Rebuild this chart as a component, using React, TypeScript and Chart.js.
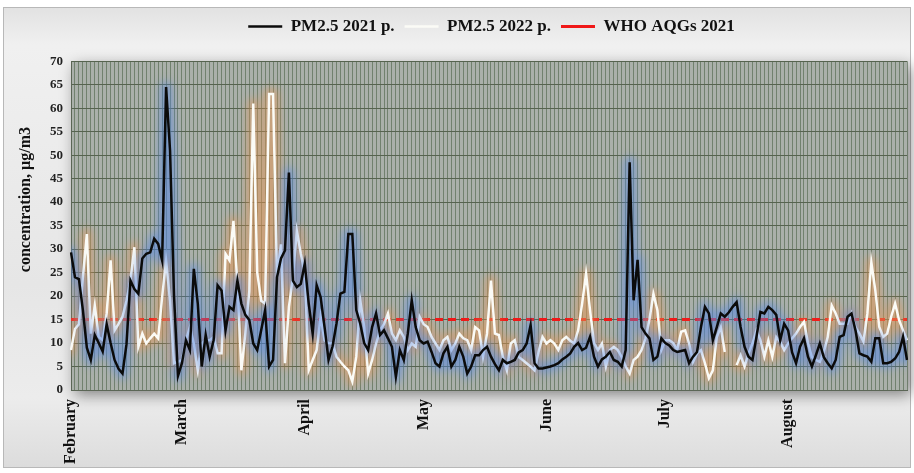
import React, { useEffect, useRef } from "react";
import { Chart, registerables } from "chart.js";

Chart.register(...registerables);

const monthLabels = ["February", "March", "April", "May", "June", "July", "August"];
const monthStartDays = [0, 28, 59, 89, 120, 150, 181];
const yMin = 0;
const yMax = 70;
const yStep = 5;
const whoLimit = 15;

const pm2021 = [
  29.3, 24.0, 23.6, 17, 9, 6.4, 11.7, 10, 8.2, 14,
  10, 6.4, 4.5, 3.5, 9.7, 23.3, 21.5, 20.5, 28, 29,
  29.3, 32.2, 31.1, 27.6, 64.5, 51, 20, 3, 5.7, 10.6,
  8.5, 25.8, 18.4, 5, 11.7, 7.1, 10.6, 22.3, 21.2, 12.7,
  17.7, 17, 23.3, 18.4, 16, 14.9, 9.9, 8.5, 12.7, 17,
  5, 6.4, 24, 28, 29.7, 46.3, 23.3, 21.9, 22.6, 26.9,
  18.4, 12, 22.3, 19.8, 13.4, 6.4, 9.2, 14.1, 20.5, 20.9,
  33.2, 33.2, 17, 14.1, 10, 8.5, 13.4, 16.3, 11.7, 12.7,
  11, 9.2, 2.8, 8.5, 6.4, 12, 19.1, 13.4, 10.6, 9.9,
  10.3, 8.1, 5.7, 5, 7.8, 9.2, 5, 6.4, 9.2, 7.1,
  3.5, 5, 7.4, 7.4, 8.5, 9.2, 7.1, 5.5, 4.2, 6.4,
  5.7, 6, 6.4, 8, 8.5, 9.9, 13.8, 5.7, 4.6, 4.6,
  4.8, 5, 5.3, 5.7, 6.5, 7.1, 7.8, 9.2, 10, 8.5,
  9, 11.3, 7.1, 5, 6.5, 7.1, 8.1, 6.4, 6, 5,
  8.5, 48.5, 19.1, 27.7, 13.4, 12, 11, 6.4, 7.1, 11,
  10, 9.5, 8.5, 8.1, 8.3, 8.5, 5.7, 7.1, 8.1, 13.4,
  17.7, 16.3, 10.6, 13.4, 16.3, 15.6, 16.5, 17.7, 18.7, 13.4,
  9.2, 7.1, 6.4, 11.3, 16.6, 16.3, 17.7, 17, 16, 10.6,
  14.1, 12.7, 8, 5.7, 9.2, 11, 7.1, 5, 7.4, 9.9,
  7, 5.7, 4.6, 6.4, 11.3, 11.7, 15.6, 16.3, 12.7, 7.8,
  7.4, 7.1, 6, 11, 11, 5.7, 5.7, 6, 6.7, 8.1,
  11.3, 6.4,
];

const pm2022 = [
  8.5, 13, 14, 24, 33.2, 12, 18, 11.3, 10.6, 16.3,
  27.6, 12.7, 14.1, 15.6, 19, 23.3, 30.4, 9.2, 12, 9.9,
  11, 12, 11, 19.8, 27.6, 19, 5.7, 6, 6.4, 10.6,
  13.4, 9.9, 4.2, 9.9, 10.6, 10.6, 11.3, 7.8, 7.8, 29,
  27.6, 36, 22.6, 4.2, 12, 21, 61, 25, 19, 18.4,
  63, 63, 24, 31, 5.7, 17.7, 24, 33.9, 29, 24.8,
  4.2, 6.4, 8.5, 15.6, 10.6, 10, 9.9, 7.1, 6, 5,
  4.2, 1.8, 7.1, 19.1, 13.4, 3.5, 6.4, 9.9, 12.7, 14,
  16.3, 12, 10.6, 12.7, 11.3, 8.5, 9.9, 9.2, 15.6, 14,
  13.4, 11.3, 9.9, 8.5, 10.6, 11.3, 8.5, 9.9, 12, 11,
  10.6, 8.5, 13.4, 12.7, 7.1, 12, 23.3, 12, 11.7, 7,
  4.2, 9.9, 10.6, 7, 6.4, 5.7, 5, 4.2, 8.1, 11.3,
  9.9, 10.6, 9.9, 8.5, 10.6, 11.3, 10.5, 9.9, 12.7, 18.4,
  24.8, 17, 10, 8.5, 9.9, 5, 8.5, 9.2, 8.5, 7,
  5, 3.5, 6.4, 7.1, 8.5, 11, 15, 20.5, 17, 8.5,
  10.6, 10.6, 10, 8.5, 12.4, 12.7, 9.9, 6, 7.8, 8.5,
  5.7, 2.5, 4.2, 11.3, 13.4, 8.1, null, null, 5.3, 7.4,
  5, 7.8, 9.9, 12.7, 10.6, 7.1, 10.6, 7.1, 11.3, 10.3,
  8.5, 9.9, 11, 12, 13.4, 14.5, 10, 7, 6.4, 6,
  8.1, 11.3, 18, 16.3, 14.1, 14.1, 14.1, 16.3, 13.4, 12,
  10.3, 16.3, 27.2, 21.2, 13.4, 11.3, 12, 15.6, 18.4, 14.9,
  12.7, 10.6,
];

const serif = "'Liberation Serif', 'Times New Roman', serif";
const yTitle = "concentration, µg/m3";

export default function App() {
  const canvasRef = useRef<HTMLCanvasElement | null>(null);

  useEffect(() => {
    document.body.style.margin = "0";
    const canvas = canvasRef.current;
    if (!canvas) return;

    const labels = pm2021.map((_, i) => {
      const m = monthStartDays.indexOf(i);
      return m >= 0 ? monthLabels[m] : "";
    });
    const whoLine = labels.map(() => whoLimit);

    const plotBg = {
      id: "plotBg",
      beforeDraw(chart: any) {
        const { ctx, chartArea: a } = chart;
        ctx.save();
        ctx.shadowColor = "rgba(0,0,0,0.45)";
        ctx.shadowBlur = 14;
        ctx.shadowOffsetX = 4;
        ctx.shadowOffsetY = 5;
        ctx.fillStyle = "#aab0aa";
        ctx.fillRect(a.left, a.top, a.right - a.left, a.bottom - a.top);
        ctx.restore();
      },
    };

    const glowColors: Record<number, string> = {
      0: "rgba(85,135,225,0.55)",
      1: "rgba(225,150,85,0.55)",
    };

    const glow = {
      id: "glow",
      beforeDatasetDraw(chart: any, args: any) {
        const color = glowColors[args.index];
        if (!color) return;
        const { ctx, chartArea: a } = chart;
        const pts = args.meta.data;
        ctx.save();
        ctx.beginPath();
        ctx.rect(a.left, a.top, a.right - a.left, a.bottom - a.top);
        ctx.clip();
        ctx.filter = "blur(4px)";
        ctx.strokeStyle = color;
        ctx.lineWidth = 11;
        ctx.lineJoin = "round";
        ctx.lineCap = "round";
        ctx.beginPath();
        let pen = false;
        for (const p of pts) {
          if (p.skip || isNaN(p.y)) {
            pen = false;
            continue;
          }
          if (!pen) {
            ctx.moveTo(p.x, p.y);
            pen = true;
          } else {
            ctx.lineTo(p.x, p.y);
          }
        }
        ctx.stroke();
        ctx.restore();
      },
    };

    const shiftLegend = {
      id: "shiftLegend",
      afterLayout(chart: any) {
        const l = chart.legend;
        if (l) {
          l.left += 30;
          l.right += 30;
        }
      },
    };

    const chart = new Chart(canvas, {
      type: "line",
      data: {
        labels,
        datasets: [
          {
            label: "PM2.5 2021 p.",
            data: pm2021,
            borderColor: "#0b0b0b",
            backgroundColor: "#0b0b0b",
            borderWidth: 2.5,
            pointRadius: 0,
            pointStyle: "line",
            tension: 0,
            spanGaps: false,
          },
          {
            label: "PM2.5 2022 p.",
            data: pm2022,
            borderColor: "#fbfbf6",
            backgroundColor: "#fbfbf6",
            borderWidth: 2.5,
            pointRadius: 0,
            pointStyle: "line",
            tension: 0,
            spanGaps: false,
          },
          {
            label: "WHO AQGs 2021",
            data: whoLine,
            borderColor: "#f01818",
            backgroundColor: "#f01818",
            borderWidth: 3,
            borderDash: [8, 5],
            pointRadius: 0,
            pointStyle: "line",
          },
        ],
      },
      options: {
        animation: false,
        responsive: false,
        devicePixelRatio: 1,
        layout: { padding: { left: 16, right: 7, top: 8, bottom: 2 } },
        plugins: {
          legend: {
            display: true,
            position: "top",
            weight: 3000,
            labels: {
              usePointStyle: true,
              pointStyle: "line",
              pointStyleWidth: 34,
              boxWidth: 34,
              color: "#111",
              padding: 10,
              font: { family: serif, weight: "bold", size: 17 },
            },
          } as any,
          title: {
            display: true,
            text: "",
            position: "top",
            padding: { top: 0, bottom: 15 },
            font: { size: 1 },
          },
          tooltip: { enabled: false },
        },
        scales: {
          x: {
            ticks: {
              autoSkip: false,
              minRotation: 90,
              maxRotation: 90,
              color: "#111",
              padding: 9,
              font: { family: serif, weight: "bold", size: 16 },
            },
            grid: { color: "rgba(78,100,72,0.62)", lineWidth: 1, drawTicks: false },
            border: { display: true, color: "#5b6656" },
            afterFit(scale: any) {
              scale.height = 81;
              scale.paddingRight = 0;
              scale.paddingLeft = 0;
            },
          },
          y: {
            min: yMin,
            max: yMax,
            ticks: {
              stepSize: yStep,
              color: "#222",
              padding: 8,
              font: { family: serif, weight: "bold", size: 13 },
            },
            grid: { color: "#56634f", lineWidth: 1, drawTicks: false },
            border: { display: true, color: "#5b6656" },
            title: {
              display: true,
              text: "             " + yTitle,
              color: "#111",
              padding: { top: 0, bottom: 0 },
              font: { family: serif, weight: "bold", size: 16 },
            },
            afterFit(scale: any) {
              scale.width = 55;
            },
          },
        },
      },
      plugins: [plotBg, glow, shiftLegend],
    });

    return () => chart.destroy();
  }, []);

  return (
    <div
      style={{
        position: "relative",
        width: 914,
        height: 473,
        background: "#ffffff",
        overflow: "hidden",
      }}
    >
      <div
        style={{
          position: "absolute",
          left: 3,
          top: 7,
          right: 3,
          bottom: 5,
          border: "1px solid #b8b8b8",
          background:
            "linear-gradient(to bottom, #e2e2e2 0%, #f0f0f0 8%, #e6e6e6 60%, #ececec 85%, #dcdcdc 100%)",
        }}
      />
      <canvas
        ref={canvasRef}
        width={914}
        height={473}
        style={{ position: "absolute", left: 0, top: 0, width: 914, height: 473 }}
      />
    </div>
  );
}
